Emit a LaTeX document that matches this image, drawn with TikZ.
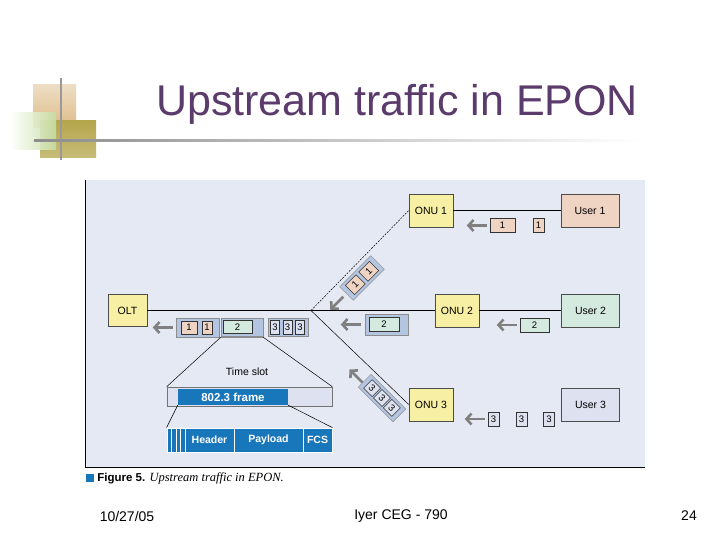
\documentclass[tikz,border=0pt]{standalone}
\usepackage{fontspec}
\setmainfont{Liberation Sans}
\newfontfamily\capserif{Liberation Serif}
\usetikzlibrary{arrows.meta,positioning,calc}
\definecolor{figbg}{HTML}{E4E9F3}
\definecolor{onuyel}{HTML}{F7EFA3}
\definecolor{usrone}{HTML}{EFD3C3}
\definecolor{usrtwo}{HTML}{D4EADF}
\definecolor{usrthree}{HTML}{DEE2F0}
\definecolor{grpblue}{HTML}{B4C5E1}
\definecolor{ieeeblue}{HTML}{1877BA}
\definecolor{titlepurple}{HTML}{5B3B6B}
\definecolor{tanbox}{HTML}{DDBB88}
\definecolor{greenbox}{HTML}{C5DDA2}
\definecolor{olivebox}{HTML}{B5A64C}

\begin{document}
\begin{tikzpicture}[x=1pt,y=-1pt,
  every node/.style={font=\fontsize{10.5}{12}\selectfont,inner sep=0pt},
  unit/.style={draw=black!70,line width=0.6pt,minimum width=44pt,minimum height=33pt},
  pkt/.style={draw=black!80,line width=0.5pt,minimum height=14pt,font=\fontsize{9.5}{10}\selectfont},
  grp/.style={fill=grpblue,draw=black!45,line width=0.5pt},
  fld/.style={fill=ieeeblue,draw=white,line width=0.8pt,text=white,minimum height=24pt,font=\bfseries\fontsize{10.5}{12}\selectfont},
  garrow/.style={draw=black!50,line width=2.6pt,-{Straight Barb[length=5pt,width=11pt]}},
  link/.style={draw=black,line width=0.7pt},
  foot/.style={font=\fontsize{14}{16}\selectfont}]
\useasboundingbox (0,0) rectangle (720,540);
\fill[white] (0,0) rectangle (720,540);

\shade[top color=tanbox!50,bottom color=tanbox] (33,85) rectangle (76,128);
\shade[top color=olivebox,bottom color=olivebox!75] (40,121) rectangle (96,158);
\shade[left color=white,right color=greenbox,opacity=0.9] (10,113) rectangle (56,150);
\draw[black!40,line width=1.5pt] (61,78) -- (61,160);
\shade[left color=black!45,right color=white] (34,140) rectangle (640,142);
\node[font=\fontsize{43}{50}\selectfont,text=titlepurple] (title) at (397,104) {Upstream traffic in EPON};

\fill[figbg] (85,180) rectangle (645,467);
\draw[black,line width=1pt] (85,180) -- (85,467) -- (645,467);

\node[unit,fill=onuyel,minimum width=39pt,minimum height=32pt] (olt) at (127.5,310.5) {OLT};
\node[unit,fill=onuyel] (onu1) at (431,210.5) {ONU 1};
\node[unit,fill=onuyel] (onu2) at (457,310.5) {ONU 2};
\node[unit,fill=onuyel] (onu3) at (431,404.5) {ONU 3};
\node[unit,fill=usrone,minimum width=58pt] (usr1) at (590,210.5) {User 1};
\node[unit,fill=usrtwo,minimum width=58pt] (usr2) at (590.5,310.5) {User 2};
\node[unit,fill=usrthree,minimum width=58pt] (usr3) at (590.5,404.5) {User 3};
\coordinate (split) at (311,310.5);

\draw[link] (olt) -- (split) -- (onu2) -- (usr2);
\draw[link] (onu1) -- (usr1);
\draw[line width=0.5pt,dash pattern=on 2pt off 1.2pt] (split) -- (onu1.west);
\draw[line width=0.5pt] (split) -- (onu3.west);

\node[pkt,fill=usrone,minimum width=25pt] (p1a) at (502.5,225.5) {1};
\node[pkt,fill=usrone,minimum width=11pt] (p1b) at (538.5,225.5) {1};
\draw[garrow] ([xshift=-3pt]p1a.west) -- ++(-20,0);

\node[pkt,fill=usrtwo,minimum width=29pt] (p2a) at (534.5,325) {2};
\draw[garrow] ([xshift=-3pt]p2a.west) -- ++(-20,0);

\node[grp,minimum width=43pt,minimum height=21pt] (s2) at (386.5,324.5) {};
\node[pkt,fill=usrtwo,minimum width=30pt] (s2a) at (384,324) {2};
\draw[garrow] ([xshift=-4pt]s2.west) -- ++(-20,0);

\foreach \xx/\nm in {493.5/a,521.5/b,549/c}
  \node[pkt,fill=usrthree,minimum width=11pt] (p3\nm) at (\xx,419) {3};
\draw[garrow] ([xshift=-3pt]p3a.west) -- ++(-20,0);

\node[grp,minimum width=43pt,minimum height=19pt] (og1) at (197.5,327.5) {};
\node[pkt,fill=usrone,minimum width=16pt,minimum height=13pt] (og1a) at (189,327.5) {1};
\node[pkt,fill=usrone,minimum width=10pt,minimum height=13pt] (og1b) at (207,327.5) {1};
\node[grp,minimum width=42pt,minimum height=19pt] (og2) at (242,327.5) {};
\node[pkt,fill=usrtwo,minimum width=29pt,minimum height=13pt] (og2a) at (237.5,327) {2};
\node[grp,minimum width=40pt,minimum height=18pt] (og3) at (288,327.5) {};
\foreach \xx/\nm in {275/a,287.5/b,300/c}
  \node[pkt,fill=usrthree,minimum width=9pt,minimum height=14pt] (og3\nm) at (\xx,327.5) {3};
\draw[garrow] ([xshift=-3pt]og1.west) -- ++(-20,0);
\draw[black!45,line width=2pt] (og2.south west) -- (og2.south east);

\begin{scope}[shift={(362,278)},rotate=45,transform shape]
  \node[grp,minimum width=44pt,minimum height=19pt] (dg1) at (0,0) {};
  \node[pkt,fill=usrone,minimum width=15pt,minimum height=13pt] (dg1a) at (-9.5,0) {1};
  \node[pkt,fill=usrone,minimum width=15pt,minimum height=13pt] (dg1b) at (9.5,0) {1};
\end{scope}
\draw[garrow] ([shift={(-3,3)}]dg1.west) -- ++(-13,13);

\begin{scope}[shift={(382,398)},rotate=-45,transform shape]
  \node[grp,minimum width=49pt,minimum height=18pt] (dg3) at (0,0) {};
  \foreach \xx/\nm in {-14/a,0/b,14/c}
    \node[pkt,fill=usrthree,minimum width=12pt,minimum height=12pt] (dg3\nm) at (\xx,0) {3};
\end{scope}
\draw[garrow] ([shift={(-2,2)}]dg3.west) -- ++(-13,-13);

\node (tslot) at (247,372) {Time slot};
\node[draw=black!55,fill=usrthree,line width=0.6pt,minimum width=165pt,minimum height=19pt] (frm) at (249.5,396.5) {};
\node[fill=ieeeblue,text=white,minimum width=110pt,minimum height=16pt,font=\bfseries\fontsize{11.5}{13}\selectfont] (f8023) at (233,397) {802.3 frame};
\draw[line width=0.5pt] (og2.south west) -- (frm.north west);
\draw[line width=0.5pt] (og2.south east) -- (frm.north east);

\node[fld,minimum width=18pt] (fpre) at (176,440) {};
\node[fld,minimum width=49pt] (fhdr) at (209.5,440) {Header};
\node[fld,minimum width=69pt] (fpay) at (268.5,440) {Payload};
\node[fld,minimum width=29pt] (ffcs) at (317.5,440) {FCS};
\foreach \f in {0.25,0.5,0.75}
  \draw[white,line width=0.8pt] ($(fpre.north west)!\f!(fpre.north east)$) -- ($(fpre.south west)!\f!(fpre.south east)$);
\draw[line width=0.5pt] (f8023.south west) -- (fpre.north west);
\draw[line width=0.5pt] (f8023.south east) -- (ffcs.north east);

\node[fill=ieeeblue,minimum size=8pt] (capmark) at (90,478) {};
\node[right=3pt of capmark,font=\bfseries\fontsize{11.5}{13}\selectfont] (caption) {Figure 5. {\capserif\mdseries\itshape\fontsize{12.5}{14}\selectfont Upstream traffic in EPON.}};

\node[foot] (date) at (127,516) {10/27/05};
\node[foot] (course) at (401,516) {Iyer CEG - 790};
\node[foot] (page) at (689,516) {24};
\end{tikzpicture}
\end{document}
